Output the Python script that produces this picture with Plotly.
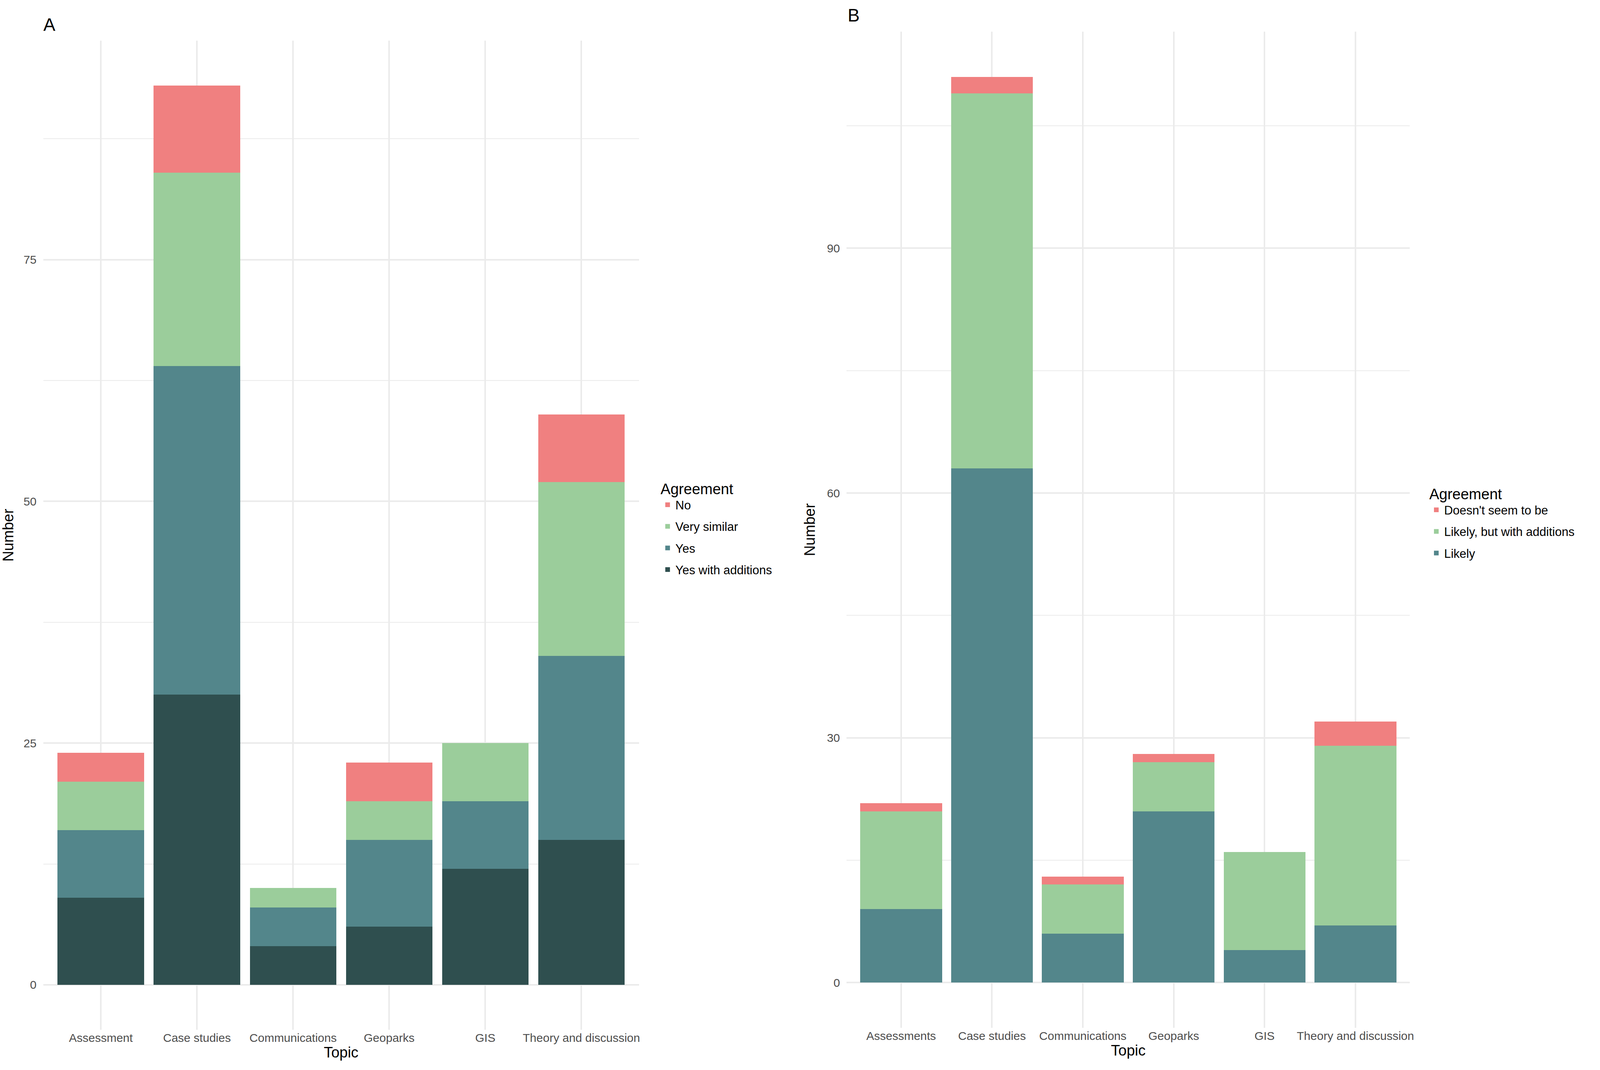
from plotly import graph_objects as go


# ---------------------------------------------------------------- data
topics_a = ["Assessment", "Case studies", "Communications", "Geoparks", "GIS", "Theory and discussion"]
yes_additions_a = [9, 30, 4, 6, 12, 15]
yes_a = [7, 34, 4, 9, 7, 19]
very_similar_a = [5, 20, 2, 4, 6, 18]
no_a = [3, 9, 0, 4, 0, 7]

topics_b = ["Assessments", "Case studies", "Communications", "Geoparks", "GIS", "Theory and discussion"]
likely_b = [9, 63, 6, 21, 4, 7]
likely_additions_b = [12, 46, 6, 6, 12, 22]
doesnt_b = [1, 2, 1, 1, 0, 3]

C_RED = "#F08080"
C_GREEN = "#9BCD9B"
C_TEAL = "#53868B"
C_DARK = "#2F4F4F"

# reference picture size, only used to turn pixel positions into paper fractions
REF_W, REF_H = 4394, 2739
FONT = "Liberation Sans"
GRID = "#EBEBEB"


def px_x(p):
    return p / REF_W


def px_y(p):
    return 1 - p / REF_H


fig = go.Figure()

# ---------------------------------------------------------------- panel A
series_a = [
    ("Yes with additions", yes_additions_a, C_DARK, 4),
    ("Yes", yes_a, C_TEAL, 3),
    ("Very similar", very_similar_a, C_GREEN, 2),
    ("No", no_a, C_RED, 1),
]
for name, vals, col, rank in series_a:
    fig.add_trace(go.Bar(
        x=topics_a, y=vals, name=name, marker=dict(color=col, line_width=0),
        width=0.9, xaxis="x", yaxis="y", legend="legend", legendgroup="a_" + name,
        legendrank=rank,
    ))

# ---------------------------------------------------------------- panel B
series_b = [
    ("Likely", likely_b, C_TEAL, 3),
    ("Likely, but with additions", likely_additions_b, C_GREEN, 2),
    ("Doesn't seem to be", doesnt_b, C_RED, 1),
]
for name, vals, col, rank in series_b:
    fig.add_trace(go.Bar(
        x=topics_b, y=vals, name=name, marker=dict(color=col, line_width=0),
        width=0.9, xaxis="x2", yaxis="y2", legend="legend2", legendgroup="b_" + name,
        legendrank=rank,
    ))

tick_font = dict(family=FONT, size=30, color="#4D4D4D")
title_font = dict(family=FONT, size=38, color="black")

xcommon = dict(
    type="category", showgrid=True, gridcolor=GRID, gridwidth=3.5, zeroline=False,
    showline=False, ticks="", tickfont=tick_font, ticklabelstandoff=0,
    title_font=title_font, title_standoff=2, automargin=False, range=[-0.6, 5.6],
)
ycommon = dict(
    showgrid=True, gridcolor=GRID, gridwidth=3.5, zeroline=False, showline=False,
    ticks="", tickfont=tick_font, ticklabelstandoff=16, title_font=title_font,
    automargin=False, title_standoff=18,
)

legend_common = dict(
    xanchor="left", yanchor="top",
    font=dict(family=FONT, size=31, color="black"),
    traceorder="grouped", tracegroupgap=12, bgcolor="rgba(0,0,0,0)",
)

fig.update_layout(
    autosize=True,
    margin=dict(l=0, r=0, t=0, b=0),
    plot_bgcolor="white", paper_bgcolor="white",
    barmode="stack", bargap=0.1,
    font=dict(family=FONT),
    xaxis=dict(xcommon, domain=[px_x(118.6), px_x(1755)], anchor="y", title_text="Topic"),
    yaxis=dict(ycommon, domain=[px_y(2636), px_y(104)], anchor="x", range=[-4.65, 97.65],
               tick0=0, dtick=25, title_text="Number",
               minor=dict(dtick=12.5, showgrid=True, gridcolor=GRID, gridwidth=1.8)),
    xaxis2=dict(xcommon, domain=[px_x(2325), px_x(3872)], anchor="y2", title_text="Topic"),
    yaxis2=dict(ycommon, domain=[px_y(2631), px_y(81)], anchor="x2", range=[-5.55, 116.55],
                tick0=0, dtick=30, title_text="Number",
                minor=dict(dtick=15, showgrid=True, gridcolor=GRID, gridwidth=1.8)),
    legend=dict(
        legend_common, x=px_x(1812), y=px_y(1216),
        title=dict(text="Agreement", font=dict(family=FONT, size=38, color="black")),
    ),
    legend2=dict(
        legend_common, x=px_x(3923), y=px_y(1229),
        title=dict(text="Agreement", font=dict(family=FONT, size=38, color="black")),
    ),
    showlegend=True,
)

fig.add_annotation(text="A", x=px_x(117), y=px_y(63), xref="paper", yref="paper",
                   xanchor="left", yanchor="middle", showarrow=False,
                   font=dict(family=FONT, size=46, color="black"))
fig.add_annotation(text="B", x=px_x(2326), y=px_y(39), xref="paper", yref="paper",
                   xanchor="left", yanchor="middle", showarrow=False,
                   font=dict(family=FONT, size=46, color="black"))

# fill the whole browser window, whatever its size
fig.write_html(
    "out.html",
    default_width="100%",
    default_height="100vh",
    config={"responsive": True, "displayModeBar": False},
    post_script=(
        "document.body.style.margin='0';"
        "document.documentElement.style.overflow='hidden';"
        "Plotly.Plots.resize(document.getElementById('{plot_id}'));"
    ),
)
